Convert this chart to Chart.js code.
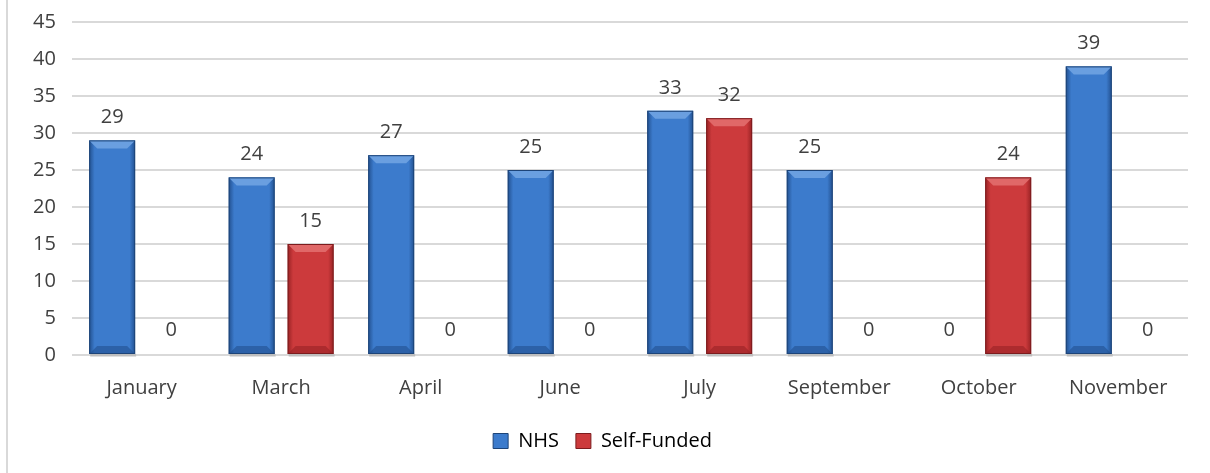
<!DOCTYPE html>
<html>
<head>
<meta charset="utf-8">
<script src="https://cdn.jsdelivr.net/npm/chart.js@4/dist/chart.umd.min.js"></script>
<style>
  html, body { margin: 0; padding: 0; background: #fff; }
  #wrap { position: relative; width: 1210px; height: 473px; }
  #frame { position: absolute; left: 6px; top: 0; width: 2px; height: 473px; background: #d9d9d9; }
</style>
</head>
<body>
<div id="wrap">
  <div id="frame"></div>
  <canvas id="myChart" width="1210" height="473"></canvas>
</div>
<script>
const months = ['January', 'March', 'April', 'June', 'July', 'September', 'October', 'November'];
const nhs = [29, 24, 27, 25, 33, 25, 0, 39];
const selfFunded = [0, 15, 0, 0, 32, 0, 24, 0];
const yTicks = [0, 5, 10, 15, 20, 25, 30, 35, 40, 45];

const FONT = '"Open Sans", "Noto Sans", sans-serif';
const TEXT = '#404040';
const palette = {
    nhs: { mid: '#3c7bcc', light: '#6a9fe0', dark: '#22508f', edge: '#1d4478' },
    self: { mid: '#cc3a3c', light: '#e06868', dark: '#982224', edge: '#7c1c1e' }
};

// bevelled bars: darker sides, lighter top facet, thin shadow below
const bevelPlugin = {
    id: 'bevel',
    afterDatasetsDraw(chart) {
        const ctx = chart.ctx;
        chart.data.datasets.forEach((ds, di) => {
            const c = di === 0 ? palette.nhs : palette.self;
            chart.getDatasetMeta(di).data.forEach((bar, i) => {
                if (!ds.data[i]) return;
                const w = bar.width;
                const l = bar.x - w / 2, r = bar.x + w / 2;
                const t = bar.y, b = bar.base;
                const bev = Math.min(8, (b - t) / 2);
                ctx.save();
                // shadow under base
                ctx.fillStyle = 'rgba(0,0,0,0.12)';
                ctx.fillRect(l + 1, b, w, 3);
                // body
                const g = ctx.createLinearGradient(l, 0, r, 0);
                g.addColorStop(0, c.dark);
                g.addColorStop(0.12, c.mid);
                g.addColorStop(0.88, c.mid);
                g.addColorStop(1, c.dark);
                ctx.fillStyle = g;
                ctx.fillRect(l, t, w, b - t);
                // top facet
                ctx.beginPath();
                ctx.moveTo(l, t);
                ctx.lineTo(r, t);
                ctx.lineTo(r - bev, t + bev);
                ctx.lineTo(l + bev, t + bev);
                ctx.closePath();
                ctx.fillStyle = c.light;
                ctx.fill();
                // bottom facet
                ctx.beginPath();
                ctx.moveTo(l, b);
                ctx.lineTo(r, b);
                ctx.lineTo(r - bev, b - bev);
                ctx.lineTo(l + bev, b - bev);
                ctx.closePath();
                ctx.fillStyle = c.dark;
                ctx.globalAlpha = 0.6;
                ctx.fill();
                ctx.globalAlpha = 1;
                ctx.strokeStyle = c.edge;
                ctx.lineWidth = 1;
                ctx.strokeRect(l + 0.5, t + 0.5, w - 1, b - t - 1);
                ctx.restore();
            });
        });
    },
    afterDraw(chart) {
        const ctx = chart.ctx;
        ctx.save();
        ctx.font = '20px ' + FONT;
        ctx.fillStyle = TEXT;
        ctx.textAlign = 'center';
        ctx.textBaseline = 'bottom';
        chart.data.datasets.forEach((ds, di) => {
            chart.getDatasetMeta(di).data.forEach((bar, i) => {
                const gap = ds.data[i] === 0 ? 15 : 13;
                ctx.fillText(String(ds.data[i]), bar.x, bar.y - gap);
            });
        });
        ctx.restore();
    }
};

const ctx = document.getElementById('myChart').getContext('2d');
new Chart(ctx, {
    type: 'bar',
    data: {
        labels: months,
        datasets: [
            { label: 'NHS', data: nhs, backgroundColor: 'rgba(0,0,0,0)', borderWidth: 0 },
            { label: 'Self-Funded', data: selfFunded, backgroundColor: 'rgba(0,0,0,0)', borderWidth: 0 }
        ]
    },
    options: {
        responsive: false,
        animation: false,
        datasets: { bar: { categoryPercentage: 0.845, barPercentage: 0.78 } },
        layout: { padding: { left: 17, right: 22, top: 2, bottom: 12 } },
        scales: {
            x: {
                grid: { display: false },
                border: { display: false },
                ticks: { color: TEXT, font: { size: 20, family: FONT, lineHeight: 0.25 }, padding: 23 }
            },
            y: {
                min: 0,
                max: 45,
                afterBuildTicks: axis => { axis.ticks = yTicks.map(v => ({ value: v })); },
                grid: { color: '#d9d9d9', lineWidth: 2, drawTicks: false },
                border: { display: false },
                ticks: { color: TEXT, font: { size: 20, family: FONT, lineHeight: 0.6 }, padding: 16 }
            }
        },
        plugins: {
            legend: {
                position: 'bottom',
                labels: {
                    color: TEXT,
                    font: { size: 20, family: FONT },
                    boxWidth: 15,
                    boxHeight: 15,
                    padding: 17,
                    generateLabels: chart => chart.data.datasets.map((ds, i) => {
                        const c = i === 0 ? palette.nhs : palette.self;
                        return { text: ds.label, fillStyle: c.mid, strokeStyle: c.edge, lineWidth: 1, datasetIndex: i };
                    })
                }
            },
            tooltip: { enabled: false }
        }
    },
    plugins: [bevelPlugin]
});
</script>
</body>
</html>
